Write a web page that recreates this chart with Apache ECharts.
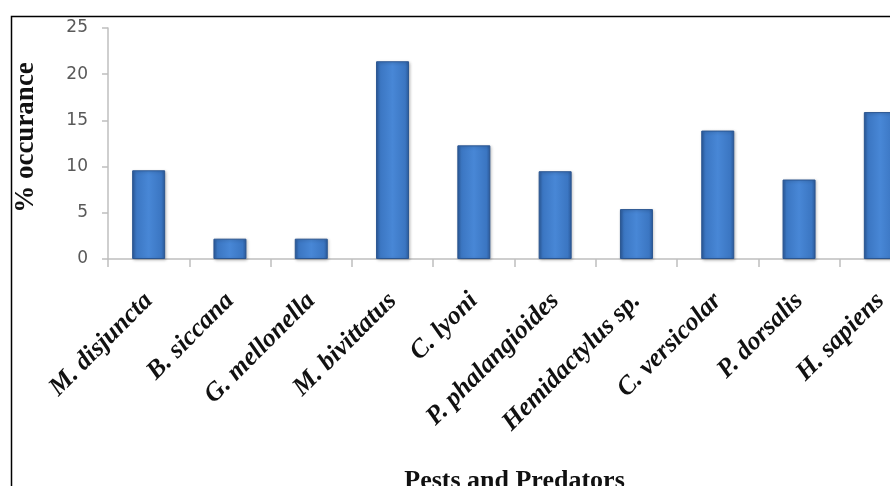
<!DOCTYPE html>
<html>
<head>
<meta charset="utf-8">
<script src="https://cdn.jsdelivr.net/npm/echarts@6/dist/echarts.min.js"></script>
<style>
html,body{margin:0;padding:0;background:#fff;}
#c{width:890px;height:486px;}
</style>
</head>
<body>
<div id="c"></div>
<script>
var categories = ['M. disjuncta','B. siccana','G. mellonella','M. bivittatus','C. lyoni','P. phalangioides','Hemidactylus sp.','C. versicolar','P. dorsalis','H. sapiens'];
var occurrence = [9.6, 2.2, 2.2, 21.4, 12.3, 9.5, 5.4, 13.9, 8.6, 15.9];
var yTicks = [0, 5, 10, 15, 20, 25];
var xTitle = 'Pests and Predators';
var yTitle = '% occurance';

var chart = echarts.init(document.getElementById('c'), null, {renderer:'canvas'});
var barGrad = new echarts.graphic.LinearGradient(0,0,1,0,[
  {offset:0, color:'#2c5c9e'},
  {offset:0.12, color:'#3b76c2'},
  {offset:0.5, color:'#4887d6'},
  {offset:0.88, color:'#3b76c2'},
  {offset:1, color:'#2c5c9e'}
]);
chart.setOption({
  animation:false,
  backgroundColor:'#ffffff',
  grid:{left:108, top:28, width:813, height:231, containLabel:false, outerBoundsMode:'none'},
  xAxis:{
    type:'category',
    data:categories,
    boundaryGap:true,
    axisLine:{lineStyle:{color:'#bfbfbf', width:1.5}},
    axisTick:{show:true, length:8, alignWithLabel:false, lineStyle:{color:'#bfbfbf', width:1.5}},
    axisLabel:{interval:0, rotate:45, margin:38, fontFamily:'Liberation Serif', fontWeight:'bold', fontStyle:'italic', fontSize:26, color:'#111'},
    name:xTitle,
    nameLocation:'middle',
    nameGap:209,
    nameTextStyle:{fontFamily:'Liberation Serif', fontWeight:'bold', fontSize:26, color:'#111'}
  },
  yAxis:{
    type:'value',
    min:yTicks[0],
    max:yTicks[yTicks.length-1],
    interval:5,
    splitLine:{show:false},
    axisLine:{show:true, lineStyle:{color:'#bfbfbf', width:1.5}},
    axisTick:{show:true, length:6, lineStyle:{color:'#bfbfbf', width:1.5}},
    axisLabel:{margin:20, fontFamily:'DejaVu Sans', fontSize:17, color:'#595959'},
    name:yTitle,
    nameLocation:'middle',
    nameGap:68,
    nameRotate:90,
    nameTextStyle:{fontFamily:'Liberation Serif', fontWeight:'bold', fontSize:27, color:'#111', padding:[0,0,0,12]}
  },
  series:[{
    type:'bar',
    data:occurrence,
    barWidth:33,
    itemStyle:{color:barGrad, borderColor:'#2a5590', borderWidth:1, shadowColor:'rgba(0,0,0,0.25)', shadowBlur:3, shadowOffsetX:1, shadowOffsetY:1}
  }],
  graphic:[{
    type:'rect', left:9, top:14, silent:true, z:-1,
    shape:{x:0, y:0, width:900, height:500},
    style:{fill:null, stroke:'#000', lineWidth:1.5}
  }]
});
</script>
</body>
</html>
